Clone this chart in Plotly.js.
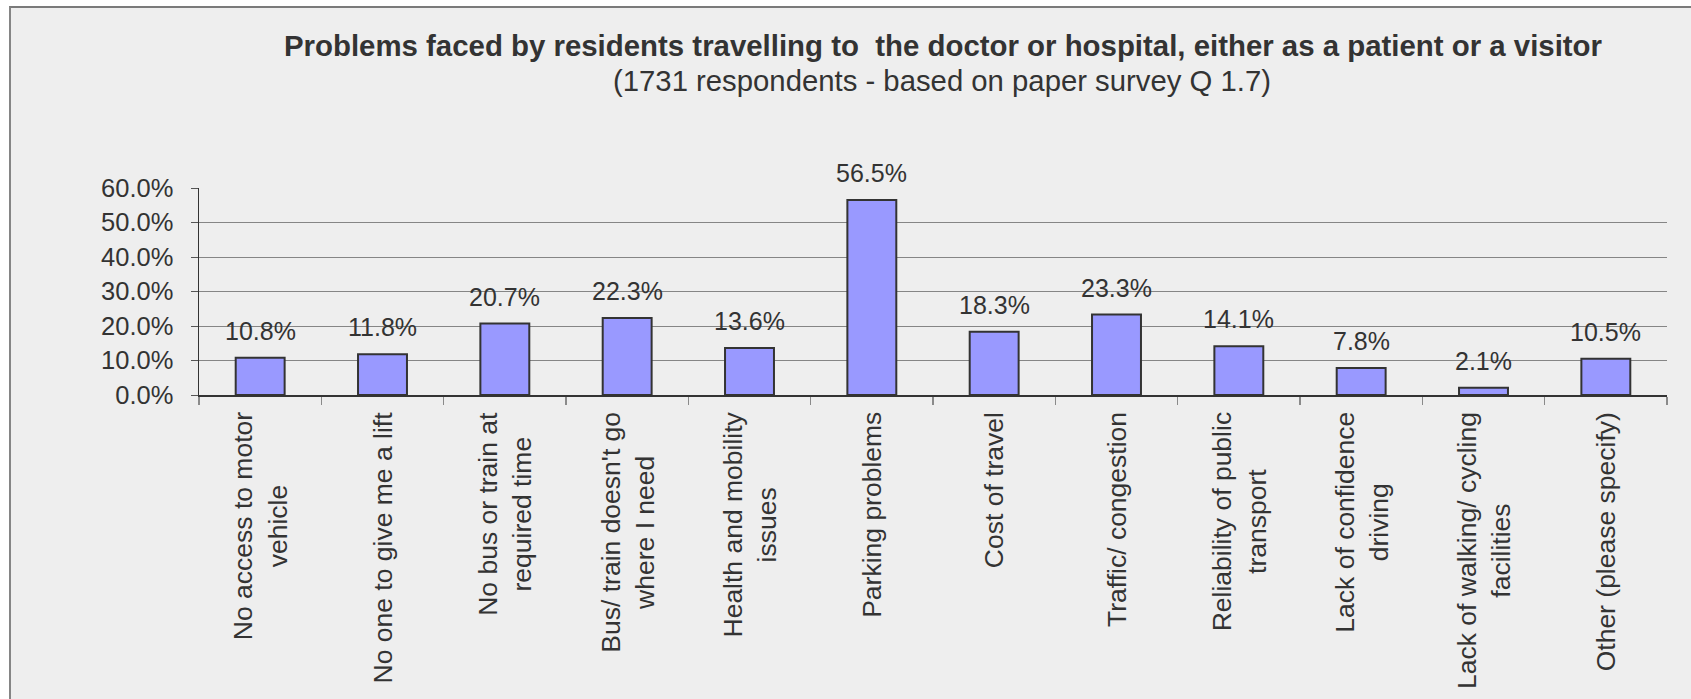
<!DOCTYPE html>
<html>
<head>
<meta charset="utf-8">
<script src="https://cdn.plot.ly/plotly-3.0.1.min.js"></script>
<style>
  html, body { margin: 0; padding: 0; background: #ffffff; overflow: hidden; }
  #frame { position: absolute; left: 9px; top: 6px; width: 1700px; height: 720px;
           background: #eeeeee; border-left: 2px solid #858585; border-top: 2px solid #7a7a7a; }
  #chart { position: absolute; left: 0; top: 0; width: 1691px; height: 699px; }
</style>
</head>
<body>
<div id="frame"></div>
<div id="chart"></div>
<script>
const categories = [
  "No access to motor<br>vehicle",
  "No one to give me a lift",
  "No bus or train at<br>required time",
  "Bus/ train doesn't go<br>where I need",
  "Health and mobility<br>issues",
  "Parking problems",
  "Cost of travel",
  "Traffic/ congestion",
  "Reliability of public<br>transport",
  "Lack of confidence<br>driving",
  "Lack of walking/ cycling<br>facilities",
  "Other (please specify)"
];
const percentages = [10.8, 11.8, 20.7, 22.3, 13.6, 56.5, 18.3, 23.3, 14.1, 7.8, 2.1, 10.5];
const yTickValues = [0, 10, 20, 30, 40, 50, 60];
const yTickLabels = ["0.0%", "10.0%", "20.0%", "30.0%", "40.0%", "50.0%", "60.0%"];
const titleText = "Problems faced by residents travelling to  the doctor or hospital, either as a patient or a visitor";
const subtitleText = "(1731 respondents - based on paper survey Q 1.7)";

const FONT = "Liberation Sans, Arial, sans-serif";
const TXT = "#333333";

const trace = {
  type: "bar",
  x: categories,
  y: percentages,
  marker: { color: "#9999ff", line: { color: "#333333", width: 2 } },
  width: 0.4,
  hoverinfo: "none"
};

// value labels above bars
const valueAnnotations = categories.map((c, i) => ({
  x: c, y: percentages[i], xref: "x", yref: "y",
  text: percentages[i].toFixed(1) + "%",
  showarrow: false, yanchor: "bottom", xanchor: "center", yshift: 11,
  font: { family: FONT, size: 25, color: TXT }
}));

// category labels (rotated, lines centred) hanging below the axis
const categoryAnnotations = categories.map((c) => ({
  x: c, y: 0, xref: "x", yref: "paper",
  text: c, textangle: -90, align: "center",
  showarrow: false, yanchor: "top", xanchor: "center", yshift: -15,
  font: { family: FONT, size: 26.5, color: TXT }
}));

const layout = {
  width: 1691, height: 699,
  paper_bgcolor: "rgba(0,0,0,0)",
  plot_bgcolor: "rgba(0,0,0,0)",
  margin: { l: 199, r: 24, t: 188, b: 304 },
  showlegend: false,
  title: {
    text: "<b>" + titleText + "</b>",
    font: { family: FONT, size: 29.4, color: TXT },
    x: 943 / 1691, xanchor: "center", xref: "container",
    y: 1 - 46 / 699, yanchor: "middle", yref: "container"
  },
  xaxis: {
    type: "category",
    showticklabels: false,
    showline: true, linecolor: "#333333", linewidth: 1.5,
    ticks: "outside", tickson: "boundaries", ticklen: 8, tickcolor: "#8a8a8a", tickwidth: 1.5,
    showgrid: false, zeroline: false,
    fixedrange: true
  },
  yaxis: {
    range: [0, 60],
    tickvals: yTickValues,
    ticktext: yTickLabels,
    tickfont: { family: FONT, size: 25.5, color: TXT },
    ticklabelstandoff: 12,
    showline: true, linecolor: "#333333", linewidth: 1.5,
    ticks: "outside", ticklen: 7, tickcolor: "#555555", tickwidth: 1,
    showgrid: true, gridcolor: "#858585", gridwidth: 1,
    zeroline: false,
    fixedrange: true
  },
  annotations: [
    {
      text: subtitleText, xref: "paper", yref: "paper",
      x: (942 - 199) / 1468, y: (395 - 81) / 207,
      xanchor: "center", yanchor: "middle", showarrow: false,
      font: { family: FONT, size: 29.3, color: TXT }
    }
  ].concat(valueAnnotations, categoryAnnotations)
};

Plotly.newPlot("chart", [trace], layout, { staticPlot: true, displayModeBar: false });
</script>
</body>
</html>
